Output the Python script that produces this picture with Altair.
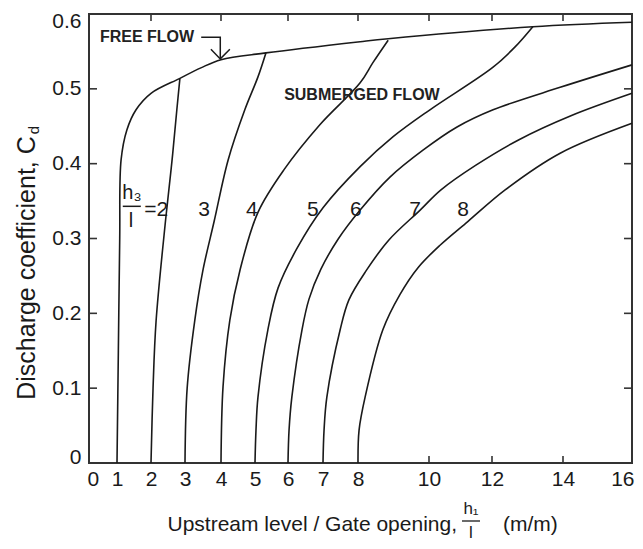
import altair as alt
import pandas as pd

FONT = "Liberation Sans"
INK = "#1a1a1a"

# ---- axis scale (hand-drawn, non-uniform tick spacing) ----
x_tick_values = [0, 1, 2, 3, 4, 5, 6, 7, 8, 10, 12, 14, 16]
x_tick_pixels = [0, 28, 62, 96, 132, 166, 199, 234, 269, 340, 403, 474, 543]
y_tick_values = [0, 0.1, 0.2, 0.3, 0.4, 0.5, 0.6]

# ---- curves ----
free_x = [1.0, 1.04, 1.08, 1.12, 1.29, 1.56, 2.0, 2.85, 3.44, 4.0, 5.33, 8.06, 8.85, 13.15, 16.0]
free_y = [0.0, 0.15, 0.30, 0.405, 0.445, 0.472, 0.494, 0.514, 0.528, 0.539, 0.548, 0.563, 0.567, 0.583, 0.589]

c2_x = [2.0, 2.06, 2.15, 2.43, 2.62, 2.76, 2.85]
c2_y = [0.0, 0.10, 0.19, 0.325, 0.405, 0.472, 0.514]

c3_x = [3.0, 3.06, 3.27, 3.5, 3.81, 4.21, 4.70, 5.09, 5.33]
c3_y = [0.0, 0.10, 0.19, 0.258, 0.323, 0.405, 0.472, 0.516, 0.548]

c4_x = [4.0, 4.06, 4.26, 4.56, 5.09, 5.88, 6.91, 8.06, 8.42, 8.85]
c4_y = [0.0, 0.102, 0.191, 0.258, 0.335, 0.392, 0.452, 0.508, 0.535, 0.565]

c5_x = [5.0, 5.03, 5.09, 5.39, 5.70, 6.26, 7.0, 8.06, 8.99, 10.03, 12.03, 12.65, 13.15]
c5_y = [0.0, 0.044, 0.088, 0.178, 0.234, 0.287, 0.341, 0.396, 0.436, 0.472, 0.529, 0.556, 0.583]

c6_x = [6.0, 6.03, 6.11, 6.4, 6.6, 6.94, 7.43, 8.06, 8.9, 9.83, 10.89, 12.03, 13.92, 16.0]
c6_y = [0.0, 0.044, 0.088, 0.178, 0.219, 0.259, 0.299, 0.338, 0.382, 0.418, 0.449, 0.472, 0.502, 0.532]

c7_x = [7.0, 7.03, 7.11, 7.49, 7.74, 8.23, 8.87, 9.75, 10.38, 11.49, 12.76, 14.23, 16.0]
c7_y = [0.0, 0.044, 0.088, 0.178, 0.218, 0.257, 0.298, 0.338, 0.365, 0.398, 0.432, 0.464, 0.494]

c8_x = [8.0, 8.03, 8.2, 8.7, 9.18, 9.69, 10.35, 11.24, 12.37, 13.92, 16.0]
c8_y = [0.0, 0.044, 0.088, 0.178, 0.225, 0.261, 0.291, 0.323, 0.365, 0.414, 0.454]

curve_sets = [("free", free_x, free_y), ("2", c2_x, c2_y), ("3", c3_x, c3_y),
              ("4", c4_x, c4_y), ("5", c5_x, c5_y), ("6", c6_x, c6_y),
              ("7", c7_x, c7_y), ("8", c8_x, c8_y)]

# ---- curve labels ----
lab_text = ["3", "4", "5", "6", "7", "8", "=2"]
lab_x = [3.53, 4.91, 6.71, 7.94, 9.61, 11.08, 2.15]
lab_y = [0.338, 0.338, 0.338, 0.338, 0.338, 0.338, 0.338]

# h3 / l fraction label
frac_text = ["h\u2083", "l"]
frac_x = [1.44, 1.41]
frac_y = [0.361, 0.323]
frac_line_x = [1.17]
frac_line_x2 = [1.70]
frac_line_y = [0.343]

# region labels
region_text = ["FREE FLOW", "SUBMERGED FLOW"]
region_x = [0.39, 8.11]
region_y = [0.569, 0.492]

# FREE FLOW arrow (shaft + head)
arrow_seg = ["shaft", "shaft", "shaft", "head", "head", "head"]
arrow_x = [3.45, 3.98, 3.98, 3.72, 3.98, 4.26]
arrow_y = [0.569, 0.569, 0.541, 0.553, 0.540, 0.553]

# inner tick marks
side_ticks = [0.1, 0.2, 0.3, 0.4, 0.5]
top_ticks = [2, 4, 6, 8, 10, 12, 14]
bottom_ticks = [10, 12, 14]

W, H = 543, 449

rows = []
for name, xs, ys in curve_sets:
    for i, (xv, yv) in enumerate(zip(xs, ys)):
        rows.append({"curve": name, "i": i, "x": xv, "y": yv})
curves_df = pd.DataFrame(rows)

xscale = alt.Scale(domain=x_tick_values, range=x_tick_pixels, zero=False, nice=False)
yscale = alt.Scale(domain=[0, 0.6], zero=False, nice=False)

x_axis = alt.Axis(values=x_tick_values, title=None, domain=False, ticks=False, grid=False,
                  labelFont=FONT, labelFontSize=21, labelColor=INK, labelPadding=5,
                  labelFlush=True, labelFlushOffset=2, labelOverlap=False)
y_axis = alt.Axis(values=y_tick_values, title=None, domain=False, ticks=False, grid=False,
                  labelFont=FONT, labelFontSize=21, labelColor=INK, labelPadding=8,
                  labelFlush=True, labelFlushOffset=4, labelOverlap=False,
                  labelExpr="datum.value == 0 ? '0' : format(datum.value, '.1f')")


def X(field="x"):
    return alt.X(f"{field}:Q", scale=xscale, axis=x_axis, title=None)


def Y(field="y"):
    return alt.Y(f"{field}:Q", scale=yscale, axis=y_axis, title=None)


curves = alt.Chart(curves_df).mark_line(color=INK, strokeWidth=1.6, interpolate="catmull-rom").encode(
    x=X(), y=Y(), detail="curve:N", order="i:Q",
)

labels_df = pd.DataFrame({"t": lab_text, "x": lab_x, "y": lab_y})
labels = alt.Chart(labels_df).mark_text(font=FONT, fontSize=21, color=INK, align="center",
                                        baseline="middle").encode(x=X(), y=Y(), text="t:N")

frac_df = pd.DataFrame({"t": frac_text, "x": frac_x, "y": frac_y})
frac = alt.Chart(frac_df).mark_text(font=FONT, fontSize=20, color=INK, align="center",
                                    baseline="middle").encode(x=X(), y=Y(), text="t:N")
frac_line = alt.Chart(pd.DataFrame({"x": frac_line_x, "x2": frac_line_x2, "y": frac_line_y})).mark_rule(
    color=INK, strokeWidth=1.5).encode(x=X(), x2="x2:Q", y=Y())

reg_df = pd.DataFrame({"t": region_text, "x": region_x, "y": region_y})
reg_left = alt.Chart(reg_df.iloc[[0]]).mark_text(font=FONT, fontSize=16, fontWeight="bold", color="#222",
                                                 align="left", baseline="middle").encode(x=X(), y=Y(), text="t:N")
reg_center = alt.Chart(reg_df.iloc[[1]]).mark_text(font=FONT, fontSize=16, fontWeight="bold", color="#222",
                                                   align="center", baseline="middle").encode(x=X(), y=Y(), text="t:N")

arrow_df = pd.DataFrame({"seg": arrow_seg, "i": list(range(len(arrow_x))), "x": arrow_x, "y": arrow_y})
arrow = alt.Chart(arrow_df).mark_line(color=INK, strokeWidth=1.5).encode(
    x=X(), y=Y(), detail="seg:N", order="i:Q")

# inner ticks
left_t = alt.Chart(pd.DataFrame({"y": side_ticks})).mark_rule(color="#333", strokeWidth=1.6).encode(
    y=Y(), x=alt.value(0), x2=alt.value(8))
right_t = alt.Chart(pd.DataFrame({"y": side_ticks})).mark_rule(color="#333", strokeWidth=1.6).encode(
    y=Y(), x=alt.value(W - 8), x2=alt.value(W))
top_t = alt.Chart(pd.DataFrame({"x": top_ticks})).mark_rule(color="#333", strokeWidth=1.6).encode(
    x=X(), y=alt.value(0), y2=alt.value(7))
bot_t = alt.Chart(pd.DataFrame({"x": bottom_ticks})).mark_rule(color="#333", strokeWidth=1.6).encode(
    x=X(), y=alt.value(H - 7), y2=alt.value(H))

# axis titles built from text pieces
ytitle = alt.Chart(pd.DataFrame({"t": ["Discharge coefficient, C"]})).mark_text(
    font=FONT, fontSize=25, color=INK, angle=270, align="center", baseline="middle").encode(
    text="t:N", x=alt.value(-62), y=alt.value(254))
ytitle_sub = alt.Chart(pd.DataFrame({"t": ["d"]})).mark_text(
    font=FONT, fontSize=15, color=INK, angle=270, align="center", baseline="middle").encode(
    text="t:N", x=alt.value(-55), y=alt.value(116))

xtitle = alt.Chart(pd.DataFrame({"t": ["Upstream level / Gate opening,"]})).mark_text(
    font=FONT, fontSize=21, color=INK, align="right", baseline="middle").encode(
    text="t:N", x=alt.value(368), y=alt.value(511))
xfrac_top = alt.Chart(pd.DataFrame({"t": ["h\u2081"]})).mark_text(
    font=FONT, fontSize=17, color=INK, align="center", baseline="middle").encode(
    text="t:N", x=alt.value(382), y=alt.value(495))
xfrac_line = alt.Chart(pd.DataFrame({"t": ["-"]})).mark_rule(color=INK, strokeWidth=1.3).encode(
    x=alt.value(373), x2=alt.value(391), y=alt.value(507))
xfrac_bot = alt.Chart(pd.DataFrame({"t": ["l"]})).mark_text(
    font=FONT, fontSize=17, color=INK, align="center", baseline="middle").encode(
    text="t:N", x=alt.value(382), y=alt.value(519))
xunits = alt.Chart(pd.DataFrame({"t": ["(m/m)"]})).mark_text(
    font=FONT, fontSize=21, color=INK, align="left", baseline="middle").encode(
    text="t:N", x=alt.value(414), y=alt.value(511))

chart = alt.layer(
    curves, labels, frac, frac_line, reg_left, reg_center, arrow,
    left_t, right_t, top_t, bot_t,
    ytitle, ytitle_sub, xtitle, xfrac_top, xfrac_line, xfrac_bot, xunits,
).properties(
    width=W, height=H,
    autosize=alt.AutoSizeParams(type="none"),
    padding={"left": 81, "top": 6, "right": 3, "bottom": 78},
).configure_view(
    stroke="#333", strokeWidth=2
)

chart.save("out.html", embed_options={"renderer": "svg", "actions": False})
